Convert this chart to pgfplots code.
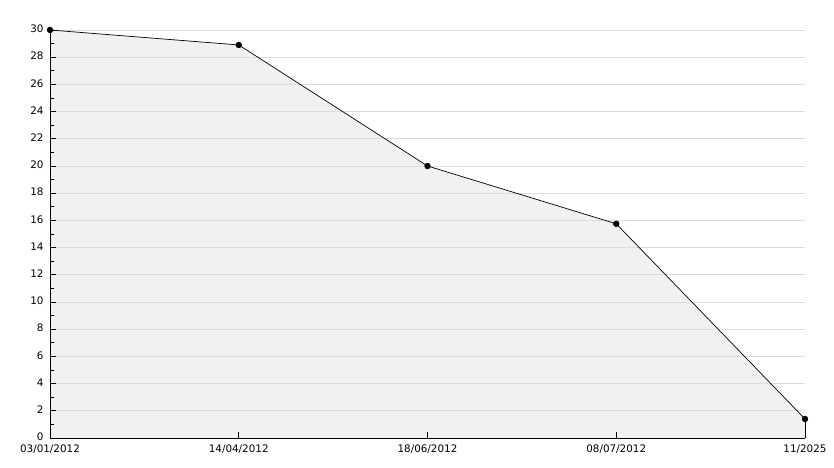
\documentclass[border=0pt]{standalone}
\usepackage{pgfplots}
\pgfplotsset{compat=1.18}
\usepackage{fontspec}
\setmainfont{DejaVu Sans}
\definecolor{gridc}{HTML}{DCDCDC}
\definecolor{fillc}{HTML}{F1F1F1}
\pgfplotsset{
  layers/mylayers/.define layer set={axis background,axis grid,pre main,axis ticks,axis lines,axis tick labels,main,axis descriptions,axis foreground}{},
}
\begin{document}
\begin{tikzpicture}
\begin{axis}[
  set layers=mylayers,
  at={(0,0)}, anchor=south west,
  scale only axis, width=755bp, height=408bp,
  xmin=0, xmax=4, ymin=0, ymax=30,
  axis x line*=bottom, axis y line*=left,
  axis line style={black, line width=0.9pt, -},
  xtick={0,1,2,3,4},
  xticklabels={03/01/2012,14/04/2012,18/06/2012,08/07/2012,11/2025},
  ytick={0,2,...,30},
  minor ytick={1,3,...,29},
  tick align=inside,
  major tick length=5.5bp, minor tick length=4bp,
  tick style={black, line width=0.9pt},
  ymajorgrids, major grid style={gridc, line width=0.8pt},
  tick label style={font=\fontsize{10.4}{12}\selectfont},
  /pgf/number format/assume math mode=true,
  yticklabel style={xshift=-3bp, yshift=1bp},
  xticklabel style={yshift=-3.5bp},
  clip=false,
]
\addplot[fill=fillc, draw=none, on layer=pre main] coordinates {(0,30) (1,28.9) (2,20) (3,15.75) (4,1.4)} \closedcycle;
\addplot[black, line width=0.7pt, mark=*, mark size=2.8bp] coordinates {(0,30) (1,28.9) (2,20) (3,15.75) (4,1.4)};
\addplot[black, line width=0.9pt] coordinates {(4,0) (4,1.4)};
\end{axis}
\pgfresetboundingbox
\path[use as bounding box] (-50bp,-30bp) rectangle (784bp,438bp);
\end{tikzpicture}
\end{document}
